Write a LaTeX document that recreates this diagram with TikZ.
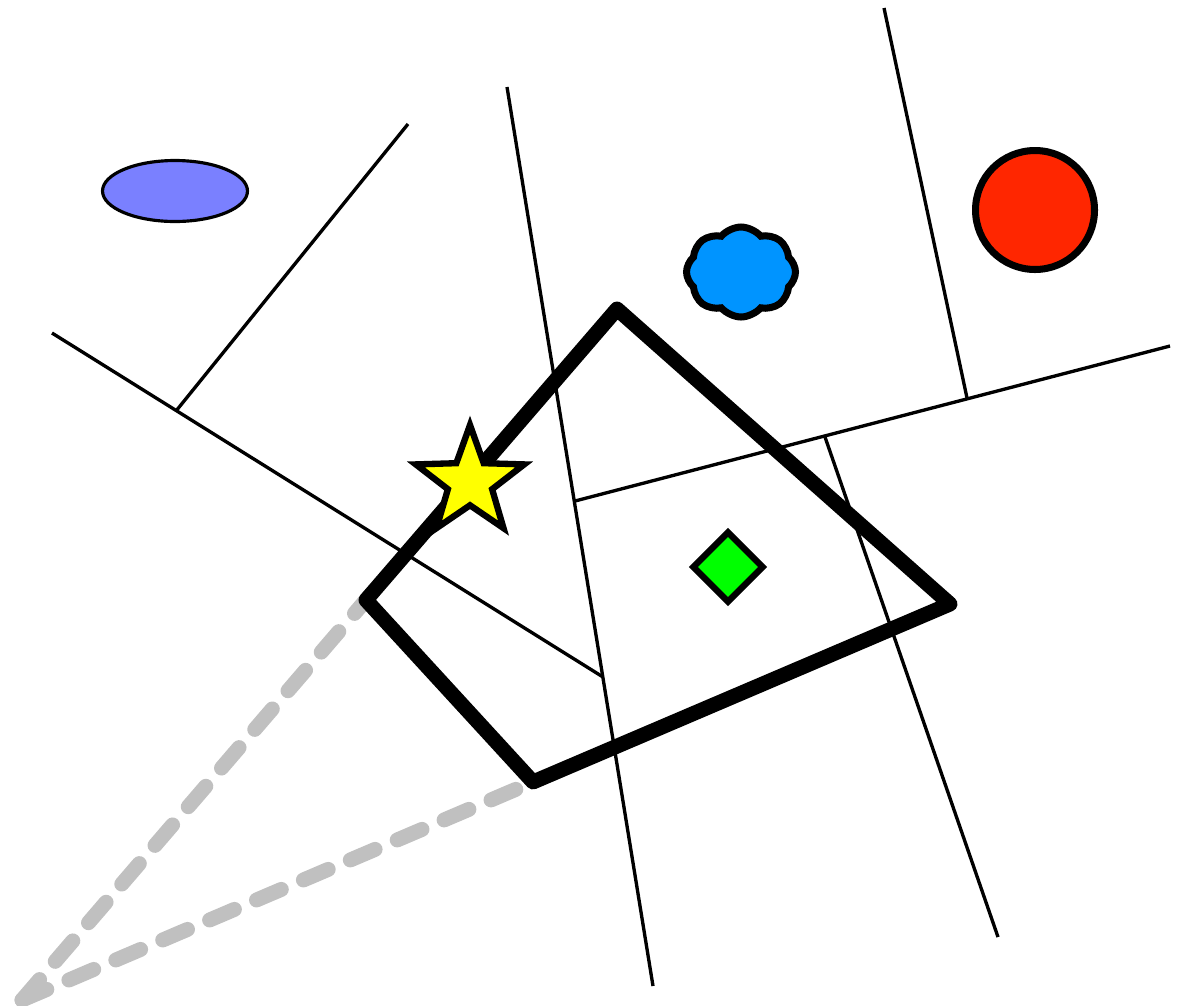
\documentclass[tikz,border=0pt]{standalone}
\usetikzlibrary{shapes.geometric, shapes.symbols, calc}
\definecolor{ellblue}{HTML}{7A80FF}
\definecolor{cloudblue}{HTML}{0094FF}
\definecolor{ballred}{HTML}{FF2600}
\definecolor{staryellow}{HTML}{FFFF00}
\definecolor{gemgreen}{HTML}{00FF00}
\definecolor{raygray}{HTML}{C0C0C0}

\begin{document}
\begin{tikzpicture}[x=0.02cm, y=-0.02cm]

% ============================================================
% Canvas: 1195 x 1005 units, y axis pointing down
% ============================================================
\useasboundingbox (0,0) rectangle (1195,1005);

% Split lines (thin)
\coordinate (j1) at (176,411);
\coordinate (j2) at (603,677);
\coordinate (j3) at (575,501);
\coordinate (j4) at (967,398);
\coordinate (j5) at (825,437);
\draw[line width=1.9pt] (52,333) -- (j2);
\draw[line width=1.9pt] (507,87) -- (653,986);
\draw[line width=1.9pt] (j1) -- (408,124);
\draw[line width=1.9pt] (j3) -- (1170,346);
\draw[line width=1.9pt] (884,8) -- (j4);
\draw[line width=1.9pt] (j5) -- (998,937);

% Quad corners
\coordinate (q1) at (617,309);
\coordinate (q2) at (950,604);
\coordinate (q3) at (533,782);
\coordinate (q4) at (366,600);
\coordinate (eye) at (22,1000);

% Rays from the eye to the near corners (dashes, behind the quad)
% period 51 units, dash 27 units
\foreach \corner in {q4, q3} {
  \foreach \k in {0,...,10} {
    \draw[raygray, line width=8.5pt, line cap=round]
      ($(eye)!\k*1.02cm!(\corner)$) -- ($(eye)!\k*1.02cm+0.54cm!(\corner)$);
  }
}

% Quad
\draw[line width=8.5pt, line join=round] (q1) -- (q2) -- (q3) -- (q4) -- cycle;

% Objects
\node[ellipse, draw, line width=1.8pt, fill=ellblue, inner sep=0pt,
  minimum width=2.9cm, minimum height=1.22cm] (blob) at (175,191) {};
\node[cloud, cloud puffs=8, cloud puff arc=100, cloud ignores aspect, draw, line width=4pt,
  fill=cloudblue, inner sep=0pt, minimum width=2.18cm, minimum height=1.8cm] (puff) at (741,272) {};
\node[circle, draw, line width=4pt, fill=ballred, inner sep=0pt,
  minimum size=2.38cm] (ball) at (1035,210) {};
\node[star, star points=5, star point ratio=2.45, draw, line width=3.6pt, fill=staryellow,
  inner sep=0pt, minimum size=2.28cm] (spark) at (470,482) {};
\node[diamond, draw, line width=3.6pt, fill=gemgreen, inner sep=0pt,
  minimum width=1.44cm, minimum height=1.44cm] (gem) at (728,567) {};

\end{tikzpicture}
\end{document}
